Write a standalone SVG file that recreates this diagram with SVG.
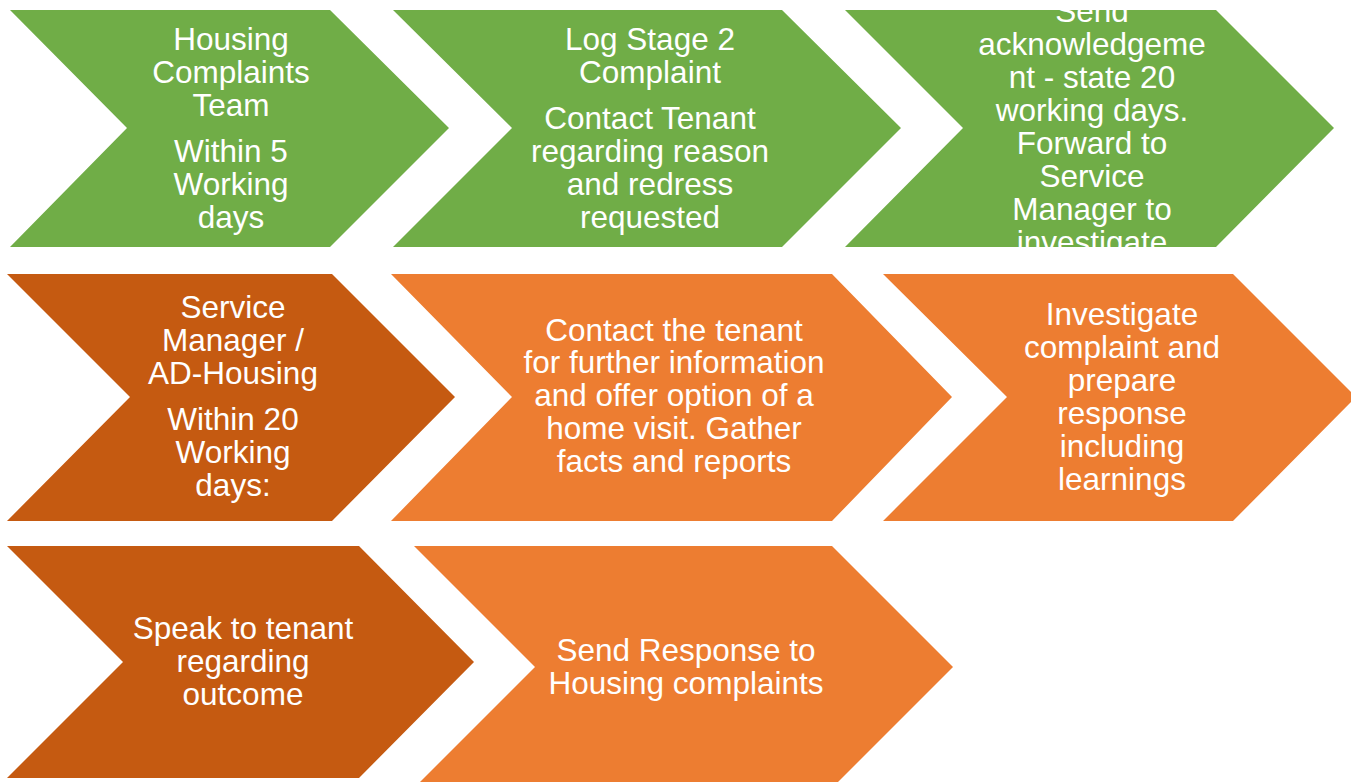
<svg xmlns="http://www.w3.org/2000/svg" width="1351" height="782" viewBox="0 0 1351 782">
<style>
.g{fill:#70AD47}.d{fill:#C55A11}.o{fill:#ED7D31}
text{font-family:"Liberation Sans",Arial,sans-serif;font-size:31.5px;fill:#FFFFFF;text-anchor:middle}
</style>
<defs>
<clipPath id="c3"><rect x="840" y="10" width="500" height="237"/></clipPath>
</defs>
<rect width="1351" height="782" fill="#FFFFFF"/>
<g id="n1"><polygon class="g" points="10,10 330,10 449,128 330,247 10,247 127,128"/>
<text x="231"><tspan x="231" y="50">Housing</tspan><tspan x="231" y="83">Complaints</tspan><tspan x="231" y="116">Team</tspan><tspan x="231" y="162">Within 5</tspan><tspan x="231" y="195">Working</tspan><tspan x="231" y="228">days</tspan></text></g>
<g id="n2"><polygon class="g" points="393,10 782,10 901,128 782,247 393,247 512,128"/>
<text x="650"><tspan x="650" y="50">Log Stage 2</tspan><tspan x="650" y="83">Complaint</tspan><tspan x="650" y="129">Contact Tenant</tspan><tspan x="650" y="162">regarding reason</tspan><tspan x="650" y="195">and redress</tspan><tspan x="650" y="228">requested</tspan></text></g>
<g id="n3"><polygon class="g" points="845,10 1216,10 1334,128 1216,247 845,247 963,128"/>
<text x="1092" clip-path="url(#c3)"><tspan x="1092" y="22">Send</tspan><tspan x="1092" y="55">acknowledgeme</tspan><tspan x="1092" y="88">nt - state 20</tspan><tspan x="1092" y="121">working days.</tspan><tspan x="1092" y="154">Forward to</tspan><tspan x="1092" y="187">Service</tspan><tspan x="1092" y="220">Manager to</tspan><tspan x="1092" y="253">investigate</tspan></text></g>
<g id="n4"><polygon class="d" points="7,274 332,274 455,397 332,521 7,521 130,397"/>
<text x="233"><tspan x="233" y="318">Service</tspan><tspan x="233" y="351">Manager /</tspan><tspan x="233" y="384">AD-Housing</tspan><tspan x="233" y="430">Within 20</tspan><tspan x="233" y="463">Working</tspan><tspan x="233" y="496">days:</tspan></text></g>
<g id="n5"><polygon class="o" points="391,274 832,274 952,397 832,521 391,521 512,397"/>
<text x="674"><tspan x="674" y="341">Contact the tenant</tspan><tspan x="674" y="373">for further information</tspan><tspan x="674" y="406">and offer option of a</tspan><tspan x="674" y="439">home visit. Gather</tspan><tspan x="674" y="472">facts and reports</tspan></text></g>
<g id="n6"><polygon class="o" points="883,274 1233,274 1356,397 1233,521 883,521 1007,397"/>
<text x="1122"><tspan x="1122" y="325">Investigate</tspan><tspan x="1122" y="358">complaint and</tspan><tspan x="1122" y="391">prepare</tspan><tspan x="1122" y="424">response</tspan><tspan x="1122" y="457">including</tspan><tspan x="1122" y="490">learnings</tspan></text></g>
<g id="n7"><polygon class="d" points="7,546 359,546 474,662 359,778 7,778 123,662"/>
<text x="243"><tspan x="243" y="639">Speak to tenant</tspan><tspan x="243" y="672">regarding</tspan><tspan x="243" y="705">outcome</tspan></text></g>
<g id="n8"><polygon class="o" points="414,546 832,546 953,667 832,788 414,788 535,667"/>
<text x="686"><tspan x="686" y="661">Send Response to</tspan><tspan x="686" y="694">Housing complaints</tspan></text></g>
<g id="connectors"></g>
</svg>
